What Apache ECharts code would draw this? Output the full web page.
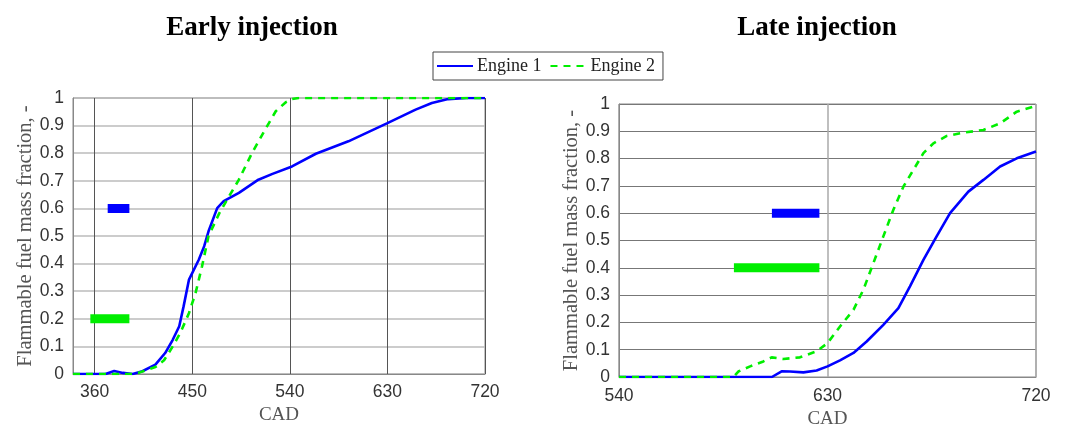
<!DOCTYPE html>
<html><head><meta charset="utf-8">
<script src="https://cdn.jsdelivr.net/npm/echarts@6/dist/echarts.min.js"></script>
<style>html,body{margin:0;padding:0;background:#fff}#c{width:1067px;height:425px}</style>
</head><body><div id="c"></div>
<script>
// Early injection (left panel)
const earlyEngine1 = [[340,0],[370,0],[378,0.011],[386,0.004],[395,0],[404,0.01],[416,0.034],[425,0.076],[432,0.124],[438,0.173],[442,0.245],[447,0.342],[456,0.414],[461,0.463],[465,0.517],[473,0.601],[479,0.626],[493,0.656],[511,0.704],[524,0.725],[542,0.752],[564,0.798],[594,0.843],[630,0.909],[656,0.958],[671,0.982],[686,0.996],[703,1],[720,1]];
const earlyEngine2 = [[340,0],[395,0],[401,0.005],[416,0.025],[424,0.05],[432,0.1],[439,0.149],[447,0.221],[453,0.293],[459,0.39],[465,0.5],[475,0.583],[484,0.644],[493,0.704],[505,0.8],[518,0.891],[527,0.952],[536,0.984],[542,0.996],[548,1],[720,1]];
const earlyInj1 = [[372,0.6],[392,0.6]];
const earlyInj2 = [[356,0.2],[392,0.2]];
// Late injection (right panel)
const lateEngine1 = [[540,0],[606,0],[610.2,0.021],[613.8,0.02],[619.6,0.017],[625.3,0.024],[630,0.039],[635.4,0.061],[641.2,0.088],[646.9,0.13],[654.1,0.191],[660.6,0.252],[665.6,0.332],[671.4,0.429],[677.1,0.515],[682.9,0.6],[690.8,0.679],[697.3,0.722],[704.5,0.771],[711.7,0.801],[720,0.826]];
const lateEngine2 = [[540,0],[589.4,0],[591.5,0.02],[596.6,0.039],[602.3,0.057],[605.9,0.072],[610.9,0.066],[618.1,0.072],[625.3,0.094],[630,0.124],[635.4,0.185],[641.2,0.246],[645.5,0.32],[649.8,0.417],[654.1,0.515],[658.4,0.612],[662.8,0.698],[667.1,0.759],[671.4,0.82],[675.7,0.856],[681.5,0.883],[688.7,0.895],[697.3,0.905],[704.5,0.929],[711.7,0.972],[720,0.993]];
const lateInj1 = [[606,0.6],[626.5,0.6]];
const lateInj2 = [[589.6,0.4],[626.5,0.4]];
const earlyTicks = [360,450,540,630,720];
const titles = ['Early injection','Late injection'];
const yName = 'Flammable fuel mass fraction, -';
const xName = 'CAD';

const BLUE = '#0000ff', GREEN = '#00ee00';
const chart = echarts.init(document.getElementById('c'), null, {renderer:'canvas'});
const labelStyle = {fontFamily:'Liberation Sans, Arial, sans-serif', fontSize:17.5, color:'#333'};
const nameStyle = {fontFamily:'Liberation Serif, Times New Roman, serif', color:'#555'};
function yFmt(v){return (Math.round(v*10)/10).toString();}
function lineS(name, data, xi, color, dashed){
  return {type:'line', name, data, xAxisIndex:xi, yAxisIndex:xi, showSymbol:false, symbol:'none', smooth:false,
    lineStyle:{color, width:2.6, type: dashed ? [7,6] : 'solid'}, itemStyle:{color}, z:3};
}
function barS(data, xi, color){
  return {type:'line', name:'inj', data, xAxisIndex:xi, yAxisIndex:xi, showSymbol:false, symbol:'none',
    lineStyle:{color, width:9, cap:'butt'}, itemStyle:{color}, z:2, silent:true};
}
chart.setOption({
  animation:false,
  graphic:[
    {type:'text', x:252, y:28, style:{text:titles[0], font:'bold 27px "Liberation Serif", serif', fill:'#000', textAlign:'center', textVerticalAlign:'middle'}},
    {type:'text', x:817, y:28, style:{text:titles[1], font:'bold 27px "Liberation Serif", serif', fill:'#000', textAlign:'center', textVerticalAlign:'middle'}}
  ],
  legend:{data:['Engine 1','Engine 2'], left:433, top:52, padding:[5,8,5,3], itemGap:8, itemWidth:36, itemHeight:12,
    borderColor:'#444', borderWidth:1, backgroundColor:'#fff', itemStyle:{opacity:0},
    textStyle:{fontFamily:'Liberation Serif, serif', fontSize:18, color:'#222', padding:[0,0,0,-1]}},
  grid:[
    {left:73, top:98, width:412, height:276, show:true, borderColor:'#888', borderWidth:1, containLabel:false, outerBoundsMode:'none'},
    {left:619, top:104, width:417, height:273, show:true, borderColor:'#888', borderWidth:1, containLabel:false, outerBoundsMode:'none'}
  ],
  xAxis:[
    {type:'value', gridIndex:0, min:340, max:720,
      axisLine:{show:true, lineStyle:{color:'#888'}}, axisTick:{show:false, customValues:earlyTicks},
      axisLabel:{...labelStyle, margin:9, customValues:earlyTicks},
      splitLine:{show:true, lineStyle:{color:'#555', width:1}},
      name:xName, nameLocation:'middle', nameGap:30, nameTextStyle:{...nameStyle, fontSize:19}},
    {type:'value', gridIndex:1, min:540, max:720, interval:90,
      axisLine:{show:true, lineStyle:{color:'#888'}}, axisTick:{show:false},
      axisLabel:{...labelStyle, margin:10},
      splitLine:{show:true, lineStyle:{color:'#aaa', width:1.5}},
      name:xName, nameLocation:'middle', nameGap:31, nameTextStyle:{...nameStyle, fontSize:19}}
  ],
  yAxis:[
    {type:'value', gridIndex:0, min:0, max:1, interval:0.1,
      axisLine:{show:true, lineStyle:{color:'#888'}}, axisTick:{show:false},
      axisLabel:{...labelStyle, margin:9, formatter:yFmt},
      splitLine:{show:true, lineStyle:{color:'#bbb', width:1.5}},
      name:yName, nameLocation:'middle', nameGap:34, nameTextStyle:{...nameStyle, fontSize:20.5}},
    {type:'value', gridIndex:1, min:0, max:1, interval:0.1,
      axisLine:{show:true, lineStyle:{color:'#888'}}, axisTick:{show:false},
      axisLabel:{...labelStyle, margin:9, formatter:yFmt},
      splitLine:{show:true, lineStyle:{color:'#777', width:1}},
      name:yName, nameLocation:'middle', nameGap:34, nameTextStyle:{...nameStyle, fontSize:20.5}}
  ],
  series:[
    barS(earlyInj1,0,BLUE), barS(earlyInj2,0,GREEN),
    barS(lateInj1,1,BLUE), barS(lateInj2,1,GREEN),
    lineS('Engine 1', earlyEngine1, 0, BLUE, false),
    lineS('Engine 2', earlyEngine2, 0, GREEN, true),
    lineS('Engine 1', lateEngine1, 1, BLUE, false),
    lineS('Engine 2', lateEngine2, 1, GREEN, true)
  ]
});
</script></body></html>
